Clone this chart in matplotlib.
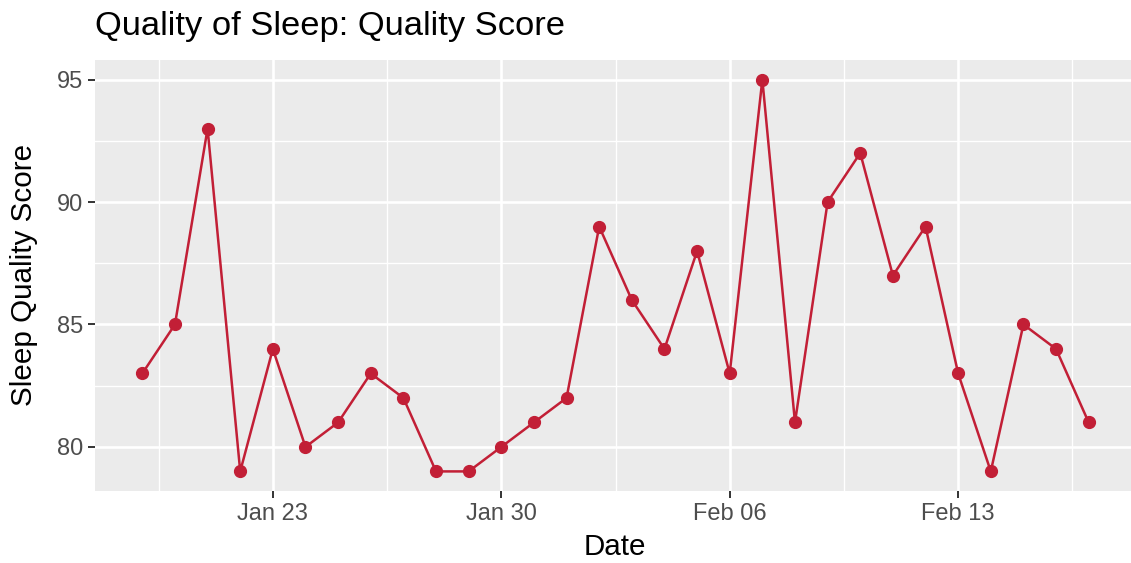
import datetime
import matplotlib
matplotlib.use('Agg')
import matplotlib.pyplot as plt
import matplotlib.dates as mdates

# sleep quality scores, one per day from Jan 19
start = datetime.date(2023, 1, 19)
scores = [83, 85, 93, 79, 84, 80, 81, 83, 82, 79, 79, 80, 81, 82, 89,
          86, 84, 88, 83, 95, 81, 90, 92, 87, 89, 83, 79, 85, 84, 81]
dates = [start + datetime.timedelta(days=i) for i in range(len(scores))]

tick_dates = [datetime.date(2023, 1, 23), datetime.date(2023, 1, 30),
              datetime.date(2023, 2, 6), datetime.date(2023, 2, 13)]
tick_labels = ['Jan 23', 'Jan 30', 'Feb 06', 'Feb 13']
y_ticks = [80, 85, 90, 95]

plt.rcParams['font.family'] = ['Liberation Sans', 'DejaVu Sans']

W, H = 1131, 563
fig = plt.figure(figsize=(W / 100, H / 100), dpi=100)
ax = fig.add_axes([95 / W, (H - 491) / H, 1041 / W, 431 / H])
ax.set_facecolor('#EBEBEB')
for s in ax.spines.values():
    s.set_visible(False)

col = '#C21F36'
ax.plot(dates, scores, color=col, lw=1.8, marker='o', ms=8.5, zorder=3)

# 5% expansion like ggplot
d0 = mdates.date2num(dates[0])
d1 = mdates.date2num(dates[-1])
pad = (d1 - d0) * 0.05
ax.set_xlim(d0 - pad, d1 + pad)
lo, hi = min(scores), max(scores)
ax.set_ylim(lo - (hi - lo) * 0.05, hi + (hi - lo) * 0.05)

tick_num = [mdates.date2num(d) for d in tick_dates]
ax.set_xticks(tick_num)
ax.set_xticklabels(tick_labels)
ax.set_xticks([t - 3.5 for t in tick_num] + [tick_num[-1] + 3.5], minor=True)
ax.set_yticks(y_ticks)
ax.set_yticks([82.5, 87.5, 92.5], minor=True)

ax.grid(which='major', color='white', lw=1.9)
ax.grid(which='minor', color='white', lw=1.0)
ax.set_axisbelow(True)

ax.tick_params(which='major', length=5, width=1.4, color='#333333',
               labelcolor='#4D4D4D', labelsize=17, pad=3.5)
ax.tick_params(which='minor', length=0)

fig.text(95 / W, 1 - 34.5 / H, 'Quality of Sleep: Quality Score',
         fontsize=24.8, va='baseline', ha='left', color='black')
fig.text(615 / W, 1 - 555 / H, 'Date', fontsize=21.3, ha='center',
         va='baseline')
fig.text(24 / W, 1 - 275 / H, 'Sleep Quality Score', fontsize=21.3,
         rotation=90, ha='center', va='center')

fig.savefig('out.png', dpi=100)
